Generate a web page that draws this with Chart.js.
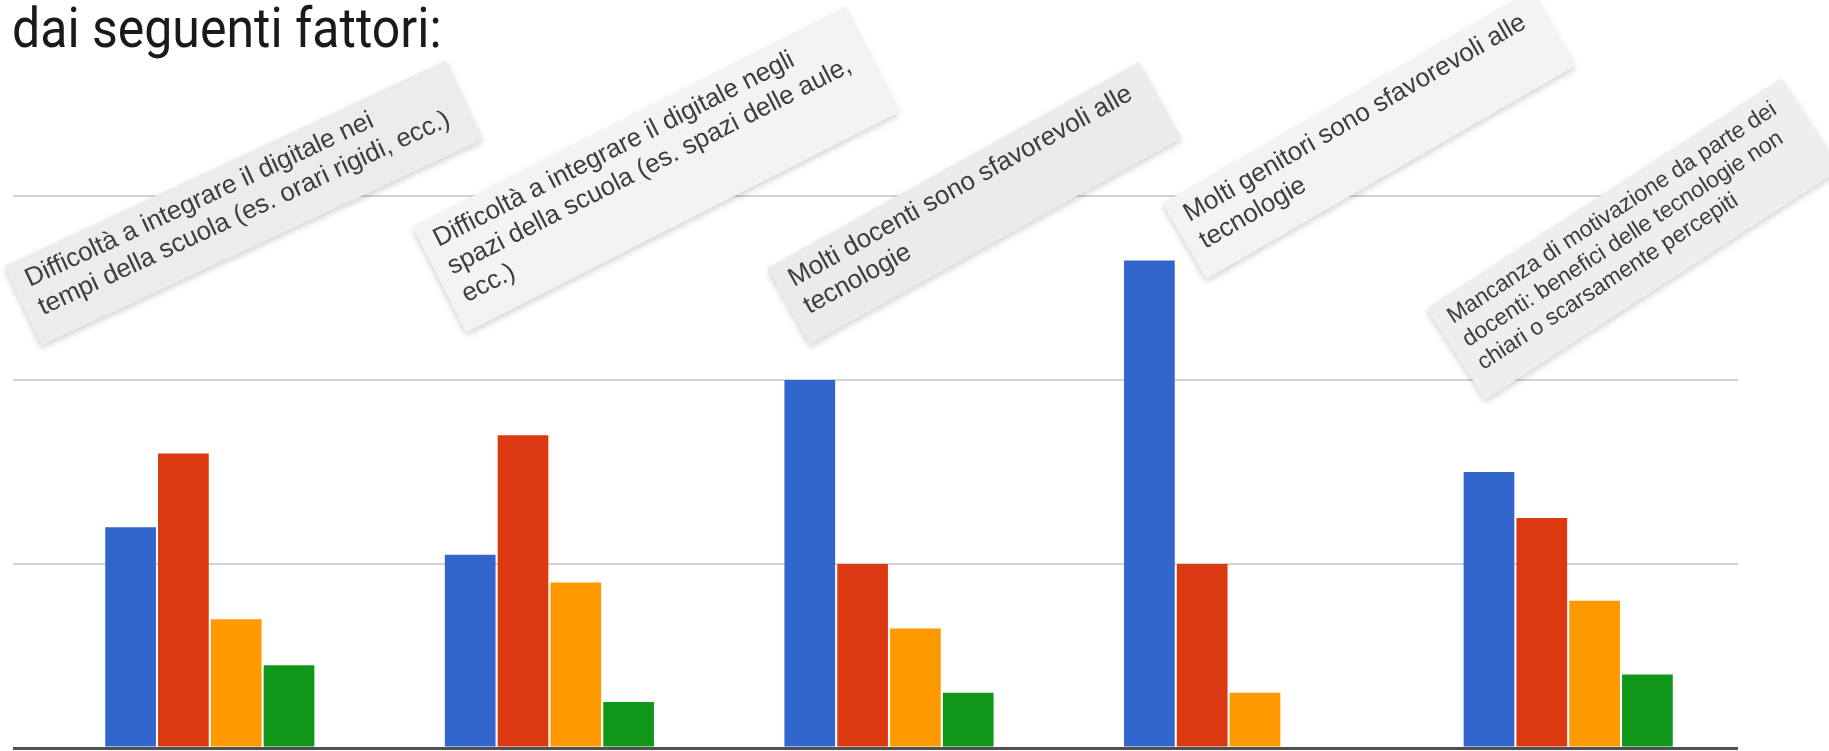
<!DOCTYPE html>
<html lang="it">
<head>
<meta charset="utf-8">
<title>dai seguenti fattori</title>
<script src="https://cdn.jsdelivr.net/npm/chart.js@4.4.1/dist/chart.umd.min.js"></script>
<style>
  html, body { margin: 0; padding: 0; background: #fff; }
  #wrap { position: relative; width: 1829px; height: 751px; overflow: hidden; }
  #chart { position: absolute; left: 0; top: 0; }
  #title {
    position: absolute; left: 12px; top: 0;
    font-family: Roboto, "Noto Sans", sans-serif; font-size: 50px; line-height: 50px;
    color: #1a1a1a; white-space: nowrap;
    transform-origin: 0 0; transform: scaleY(1.12);
  }
</style>
</head>
<body>
<div id="wrap">
  <canvas id="chart" width="1829" height="751"></canvas>
  <div id="title">dai seguenti fattori:</div>
</div>
<script>
// Categories (each label already split in the lines shown in the picture)
const categories = [
  ['Difficoltà a integrare il digitale nei', 'tempi della scuola (es. orari rigidi, ecc.)'],
  ['Difficoltà a integrare il digitale negli', 'spazi della scuola (es. spazi delle aule,', 'ecc.)'],
  ['Molti docenti sono sfavorevoli alle', 'tecnologie'],
  ['Molti genitori sono sfavorevoli alle', 'tecnologie'],
  ['Mancanza di motivazione da parte dei', 'docenti: benefici delle tecnologie non', 'chiari o scarsamente percepiti']
];

// Series values (gridlines every 20)
const seriesNames = ['Serie 1', 'Serie 2', 'Serie 3', 'Serie 4'];
const serie1 = [24, 21, 40, 53, 30];
const serie2 = [32, 34, 20, 20, 25];
const serie3 = [14, 18, 13, 6, 16];
const serie4 = [9, 5, 6, 0, 8];

const yTicks = [0, 20, 40, 60];

const colors = ['#3366cc', '#dc3912', '#ff9900', '#109618'];

// Look of the slanted label boxes
const labelShiftX = [-180, -111, -95, -39, -115];
const labelShiftY = [91, 51, 91, 26, 128];
const labelAngle = [-25, -27, -29, -30, -33];
const labelSize = [26, 26, 26, 26, 23];
const labelFill = ['#ececec', '#f3f3f3', '#ebebeb', '#f3f3f3', '#eeeeee'];

// Draws the category labels inside rotated grey boxes above each group
const labelBoxes = {
  id: 'labelBoxes',
  afterDraw(chart) {
    const ctx = chart.ctx;
    const xScale = chart.scales.x;
    const top = chart.chartArea.top;
    categories.forEach((lines, i) => {
      const fs = labelSize[i];
      const lh = fs * 1.2;
      ctx.save();
      ctx.translate(xScale.getPixelForValue(i) + labelShiftX[i], top + labelShiftY[i]);
      ctx.rotate(labelAngle[i] * Math.PI / 180);
      ctx.font = fs + 'px "Liberation Sans", Arial, sans-serif';
      const maxW = Math.max(...lines.map(l => ctx.measureText(l).width));
      const padL = 14, padR = 22, padT = 10, padB = 20;
      const bx = -padL;
      const by = -fs * 0.75 - padT;
      const bw = maxW + padL + padR;
      const bh = padT + fs * 0.75 + (lines.length - 1) * lh + fs * 0.25 + padB;
      ctx.shadowColor = 'rgba(0,0,0,0.18)';
      ctx.shadowBlur = 6;
      ctx.shadowOffsetY = 3;
      ctx.fillStyle = labelFill[i];
      ctx.fillRect(bx, by, bw, bh);
      ctx.shadowColor = 'transparent';
      ctx.fillStyle = '#3d3d3d';
      ctx.textBaseline = 'alphabetic';
      lines.forEach((l, k) => ctx.fillText(l, 0, k * lh));
      ctx.restore();
    });
  }
};

const seriesValues = [serie1, serie2, serie3, serie4];

new Chart(document.getElementById('chart').getContext('2d'), {
  type: 'bar',
  data: {
    labels: categories,
    datasets: seriesValues.map((vals, i) => ({
      label: seriesNames[i],
      data: vals,
      backgroundColor: colors[i],
      borderWidth: 0,
      barPercentage: 0.96,
      categoryPercentage: 0.622
    }))
  },
  options: {
    responsive: false,
    animation: false,
    devicePixelRatio: 1,
    layout: { padding: { left: 13, right: 91, top: 196, bottom: 3 } },
    plugins: {
      legend: { display: false },
      tooltip: { enabled: false }
    },
    scales: {
      x: {
        display: false,
        offset: true
      },
      y: {
        min: yTicks[0],
        max: yTicks[yTicks.length - 1],
        afterBuildTicks: (scale) => { scale.ticks = yTicks.map(v => ({ value: v })); },
        ticks: { display: false },
        border: { display: false },
        grid: {
          drawTicks: true,
          tickLength: 27,
          color: (c) => c.tick && c.tick.value === 0 ? '#505050' : '#d4d4d4',
          lineWidth: (c) => c.tick && c.tick.value === 0 ? 3 : 2
        }
      }
    }
  },
  plugins: [labelBoxes]
});
</script>
</body>
</html>
